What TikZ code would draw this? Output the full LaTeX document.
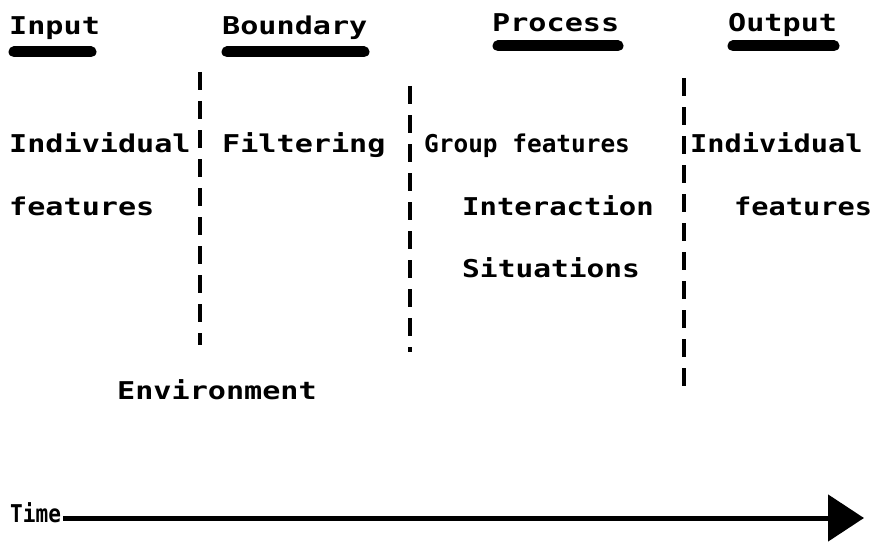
\documentclass[tikz,border=0pt]{standalone}
\usepackage{fontspec}
\setmonofont[FakeStretch=1.23]{DejaVu Sans Mono}
\usetikzlibrary{arrows.meta}
\begin{document}
\begin{tikzpicture}[x=1pt,y=-1pt,
  lbl/.style={anchor=base west, inner sep=0pt,
    font=\fontsize{24.5}{28}\selectfont\ttfamily\bfseries},
  headbar/.style={line width=11pt, line cap=round},
  divider/.style={line width=3.5pt, dash pattern=on 18pt off 11pt},
  timeline/.style={line width=5pt, -{Triangle[length=36pt,width=46pt]}}]
\useasboundingbox[fill=white] (0,0) rectangle (876,543);

% column headings with their heavy underline bars
\node[lbl] (input)    at (9,35)   {Input};
\node[lbl] (boundary) at (222,35) {Boundary};
\node[lbl] (process)  at (492,32) {Process};
\node[lbl] (output)   at (728,32) {Output};
\draw[headbar] (14,52)  -- (91,52);
\draw[headbar] (227,52) -- (364,52);
\draw[headbar] (498,46) -- (618,46);
\draw[headbar] (733,46) -- (834,46);

% dashed column dividers
\draw[divider] (200,72) -- (200,345);
\draw[divider] (410,86) -- (410,352);
\draw[divider] (684,78) -- (684,392);

% column contents
\node[lbl] (indivL)   at (9,152)   {Individual};
\node[lbl] (filter)   at (222,152) {Filtering};
\node[lbl] (group)    at (424,152) {\scalebox{0.81}[1]{Group features}};
\node[lbl] (indivR)   at (690,152) {\scalebox{0.95}[1]{Individual}};
\node[lbl] (featL)    at (9,215)   {features};
\node[lbl] (interact) at (462,215) {\scalebox{0.96}[1]{Interaction}};
\node[lbl] (featR)    at (734,215) {\scalebox{0.95}[1]{features}};
\node[lbl] (situ)     at (462,277) {\scalebox{0.98}[1]{Situations}};
\node[lbl] (env)      at (117,399) {Environment};

% time axis
\node[lbl] (time) at (10,522) {\scalebox{0.7}[1]{Time}};
\path (time.base east) ++(2pt,4pt) coordinate (tstart);
\coordinate (tx) at (864,0);
\draw[timeline] (tstart) -- (tstart -| tx);
\end{tikzpicture}
\end{document}
